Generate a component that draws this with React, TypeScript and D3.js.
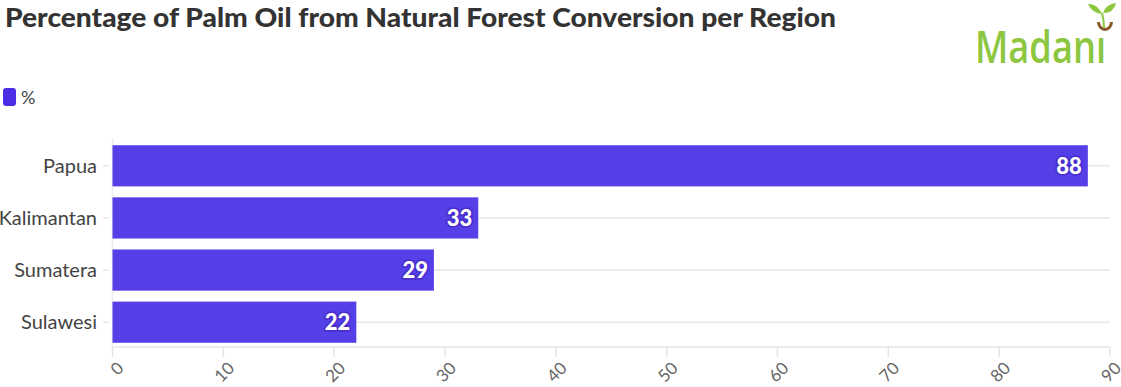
import React from "react";
import * as d3 from "d3";

const categories = ["Papua", "Kalimantan", "Sumatera", "Sulawesi"];
const values = [88, 33, 29, 22];
const xTicks = [0, 10, 20, 30, 40, 50, 60, 70, 80, 90];
const seriesName = "%";
const title = "Percentage of Palm Oil from Natural Forest Conversion per Region";

const W = 1121;
const H = 387;
const FONT = "Lato, 'Open Sans', sans-serif";

export default function App() {
  const x = d3.scaleLinear().domain([0, 90]).range([112.5, 1110]);
  const y = d3
    .scaleBand<string>()
    .domain(categories)
    .range([140, 348])
    .paddingInner(0.21)
    .paddingOuter(0.1);
  const barColor = "#553fe6";

  return (
    <svg
      width={W}
      height={H}
      style={{ position: "absolute", left: 0, top: 0, background: "#fff" }}
      fontFamily={FONT}
    >
      <text
        x={5}
        y={27}
        fontSize={27}
        fontWeight={900}
        fill="#333"
        textLength={831}
        lengthAdjust="spacingAndGlyphs"
      >
        {title}
      </text>

      {/* logo */}
      <g>
        <text
          x={975}
          y={63}
          fontSize={45}
          fontWeight={600}
          fill="#8dc63f"
          fontFamily="'Open Sans', sans-serif"
          textLength={131}
          lengthAdjust="spacingAndGlyphs"
        >
          Madanı
        </text>
        <path d="M1097,22 A8,9 0 0 0 1113,22 L1110,22 A5,6 0 0 1 1100,22 Z" fill="#8b5a2b" />
        <path d="M1104,28 Q1104,20 1102,13" stroke="#8dc63f" strokeWidth={2} fill="none" />
        <path d="M1102,14 Q1097,3 1088,4 Q1092,13 1102,14 Z" fill="#8dc63f" />
        <path d="M1103,13 Q1106,4 1116,3 Q1114,13 1103,13 Z" fill="#8dc63f" />
      </g>

      {/* legend */}
      <rect x={3} y={88} width={13} height={18} rx={3} fill="#4a2ee6" />
      <text x={21} y={104} fontSize={18} fill="#444">
        {seriesName}
      </text>

      {/* gridlines */}
      {categories.map((c) => (
        <line
          key={"g" + c}
          x1={x(0)}
          x2={x(90)}
          y1={y(c)! + y.bandwidth() / 2}
          y2={y(c)! + y.bandwidth() / 2}
          stroke="#ececec"
          strokeWidth={2}
        />
      ))}
      <line x1={x(0)} x2={x(0)} y1={138} y2={346} stroke="#ececec" strokeWidth={1.5} />
      <line x1={x(0)} x2={x(90)} y1={347} y2={347} stroke="#ececec" strokeWidth={2} />

      {/* y ticks & labels */}
      {categories.map((c) => (
        <g key={"y" + c}>
          <line
            x1={103}
            x2={109}
            y1={y(c)! + y.bandwidth() / 2}
            y2={y(c)! + y.bandwidth() / 2}
            stroke="#e4e4e4"
            strokeWidth={1.5}
          />
          <text
            x={97}
            y={y(c)! + y.bandwidth() / 2}
            dy="0.35em"
            textAnchor="end"
            fontSize={20}
            fill="#444"
          >
            {c}
          </text>
        </g>
      ))}

      {/* bars */}
      {categories.map((c, i) => (
        <rect
          key={"b" + c}
          x={x(0)}
          y={y(c)!}
          width={x(values[i]) - x(0)}
          height={y.bandwidth()}
          fill={barColor}
        />
      ))}

      {/* value labels */}
      {categories.map((c, i) => (
        <text
          key={"v" + c}
          x={x(values[i]) - 6}
          y={y(c)! + y.bandwidth() / 2}
          dy="0.36em"
          textAnchor="end"
          fontSize={22}
          fontWeight={900}
          fill="#fff"
          stroke="#4a2ed0"
          strokeWidth={3.5}
          paintOrder="stroke"
          strokeLinejoin="round"
        >
          {values[i]}
        </text>
      ))}

      {/* x ticks */}
      {xTicks.map((t) => (
        <g key={"x" + t} transform={`translate(${x(t)},347)`}>
          <line y1={0} y2={10} stroke="#e4e4e4" strokeWidth={1.5} />
          <text
            transform="translate(8,18) rotate(-45)"
            textAnchor="end"
            dy="0.35em"
            fontSize={17}
            fill="#666"
          >
            {t}
          </text>
        </g>
      ))}
    </svg>
  );
}
